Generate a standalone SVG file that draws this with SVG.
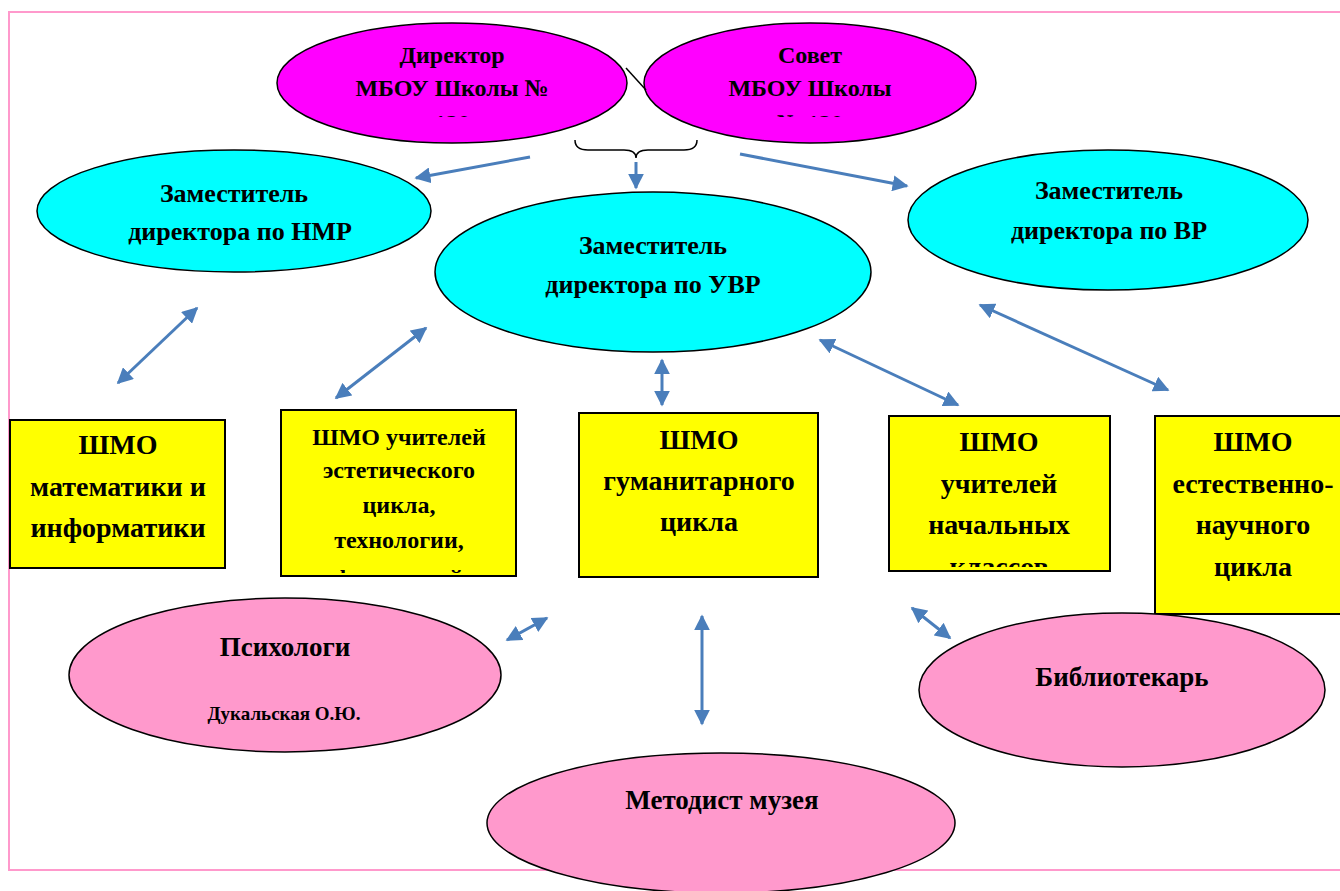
<svg xmlns="http://www.w3.org/2000/svg" width="1340" height="891" viewBox="0 0 1340 891">
<defs>
<style>
.t{font-family:"Liberation Serif","Times New Roman",serif;font-weight:bold;fill:#000;text-anchor:middle}
.mag{fill:#ff00ff;stroke:#000;stroke-width:1.5}
.cyan{fill:#00ffff;stroke:#000;stroke-width:1.5}
.pink{fill:#ff99cc;stroke:#000;stroke-width:1.5}
.box{fill:#ffff00;stroke:#000;stroke-width:2}
.ar{stroke:#4a7ebb;stroke-width:3;fill:none}
</style>
<marker id="ah" viewBox="0 0 10 10" refX="9" refY="5" markerWidth="16" markerHeight="16" markerUnits="userSpaceOnUse" orient="auto-start-reverse">
<path d="M0,0 L10,5 L0,10 z" fill="#4a7ebb"/>
</marker>
<clipPath id="c1"><rect x="270" y="20" width="370" height="97"/></clipPath>
<clipPath id="c2"><rect x="640" y="20" width="340" height="97"/></clipPath>
<clipPath id="c3"><rect x="281" y="410" width="235" height="163"/></clipPath>
<clipPath id="c4"><rect x="889" y="416" width="221" height="151"/></clipPath>
</defs>
<rect x="9" y="12" width="1340" height="858" fill="none" stroke="#ff99cc" stroke-width="2"/>

<g id="director">
<ellipse class="mag" cx="452" cy="83" rx="175" ry="60"/>
<g clip-path="url(#c1)">
<text class="t" font-size="24" x="452" y="63">Директор</text>
<text class="t" font-size="24" x="452" y="96">МБОУ Школы №</text>
<text class="t" font-size="24" x="452" y="131">120</text>
</g>
</g>
<g id="council">
<ellipse class="mag" cx="810" cy="83" rx="166" ry="60"/>
<g clip-path="url(#c2)">
<text class="t" font-size="24" x="810" y="63">Совет</text>
<text class="t" font-size="24" x="810" y="96">МБОУ Школы</text>
<text class="t" font-size="24" x="810" y="131">№ 120</text>
</g>
</g>
<g id="nmr">
<ellipse class="cyan" cx="234" cy="211" rx="197" ry="61"/>
<text class="t" font-size="26" x="234" y="202">Заместитель</text>
<text class="t" font-size="26" x="240" y="240">директора по НМР</text>
</g>
<g id="uvr">
<ellipse class="cyan" cx="653" cy="272" rx="218" ry="80"/>
<text class="t" font-size="26" x="653" y="254">Заместитель</text>
<text class="t" font-size="26" x="653" y="293">директора по УВР</text>
</g>
<g id="vr">
<ellipse class="cyan" cx="1108" cy="220" rx="200" ry="70"/>
<text class="t" font-size="26" x="1109" y="199">Заместитель</text>
<text class="t" font-size="26" x="1109" y="239">директора по ВР</text>
</g>

<g id="shmo-math">
<rect class="box" x="10" y="420" width="215" height="148"/>
<text class="t" font-size="28" x="118" y="454">ШМО</text>
<text class="t" font-size="28" x="118" y="496">математики и</text>
<text class="t" font-size="28" x="118" y="537">информатики</text>
</g>
<g id="shmo-est">
<rect class="box" x="281" y="410" width="235" height="166"/>
<g clip-path="url(#c3)">
<text class="t" font-size="24" x="399" y="445">ШМО учителей</text>
<text class="t" font-size="24" x="399" y="478">эстетического</text>
<text class="t" font-size="24" x="399" y="513">цикла,</text>
<text class="t" font-size="24" x="399" y="548">технологии,</text>
<text class="t" font-size="24" x="399" y="586">физической</text>
</g>
</g>
<g id="shmo-hum">
<rect class="box" x="579" y="413" width="239" height="164"/>
<text class="t" font-size="28" x="699" y="449">ШМО</text>
<text class="t" font-size="28" x="699" y="490">гуманитарного</text>
<text class="t" font-size="28" x="699" y="531">цикла</text>
</g>
<g id="shmo-prim">
<rect class="box" x="889" y="416" width="221" height="155"/>
<g clip-path="url(#c4)">
<text class="t" font-size="28" x="999" y="451">ШМО</text>
<text class="t" font-size="28" x="999" y="493">учителей</text>
<text class="t" font-size="28" x="999" y="534">начальных</text>
<text class="t" font-size="28" x="999" y="576">классов</text>
</g>
</g>
<g id="shmo-nat">
<rect class="box" x="1155" y="416" width="200" height="198"/>
<text class="t" font-size="28" x="1253" y="451">ШМО</text>
<text class="t" font-size="28" x="1253" y="493">естественно-</text>
<text class="t" font-size="28" x="1253" y="534">научного</text>
<text class="t" font-size="28" x="1253" y="576">цикла</text>
</g>

<g id="psych">
<ellipse class="pink" cx="285" cy="675" rx="216" ry="77"/>
<text class="t" font-size="27" x="285" y="656">Психологи</text>
<text class="t" font-size="19" x="284" y="720">Дукальская О.Ю.</text>
</g>
<g id="lib">
<ellipse class="pink" cx="1122" cy="690" rx="203" ry="77"/>
<text class="t" font-size="27" x="1122" y="686">Библиотекарь</text>
</g>
<g id="museum">
<ellipse class="pink" cx="721" cy="823" rx="234" ry="70"/>
<text class="t" font-size="27" x="722" y="809">Методист музея</text>
</g>

<g id="connectors">
<line x1="626" y1="68" x2="646" y2="90" stroke="#000" stroke-width="1.5"/>
<path d="M575,140 Q575,150 588,150 L624,150 Q636,150 636,158 Q636,150 648,150 L684,150 Q697,150 697,140" fill="none" stroke="#000" stroke-width="1.5"/>
<line class="ar" x1="530" y1="157" x2="416" y2="178" marker-end="url(#ah)"/>
<line class="ar" x1="636" y1="162" x2="636" y2="188" marker-end="url(#ah)"/>
<line class="ar" x1="740" y1="154" x2="907" y2="186" marker-end="url(#ah)"/>
<line class="ar" x1="118" y1="383" x2="197" y2="308" marker-start="url(#ah)" marker-end="url(#ah)"/>
<line class="ar" x1="336" y1="398" x2="426" y2="328" marker-start="url(#ah)" marker-end="url(#ah)"/>
<line class="ar" x1="662" y1="360" x2="662" y2="405" marker-start="url(#ah)" marker-end="url(#ah)"/>
<line class="ar" x1="820" y1="340" x2="958" y2="405" marker-start="url(#ah)" marker-end="url(#ah)"/>
<line class="ar" x1="980" y1="305" x2="1168" y2="390" marker-start="url(#ah)" marker-end="url(#ah)"/>
<line class="ar" x1="507" y1="640" x2="547" y2="618" marker-start="url(#ah)" marker-end="url(#ah)"/>
<line class="ar" x1="702" y1="616" x2="702" y2="724" marker-start="url(#ah)" marker-end="url(#ah)"/>
<line class="ar" x1="912" y1="608" x2="950" y2="638" marker-start="url(#ah)" marker-end="url(#ah)"/>
</g>
</svg>
